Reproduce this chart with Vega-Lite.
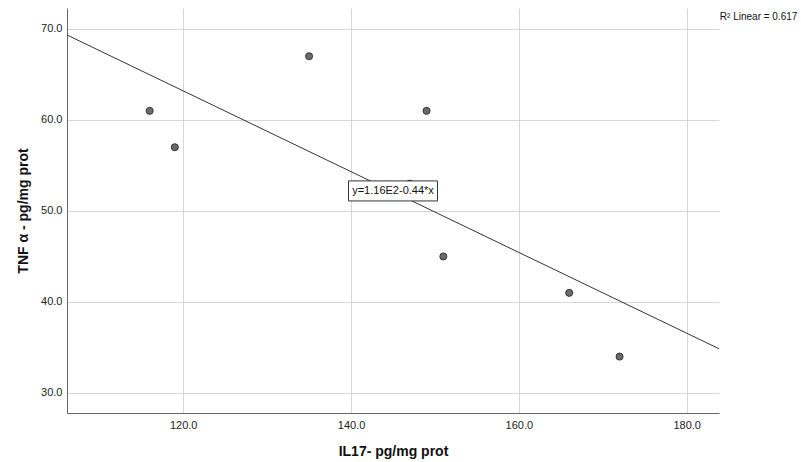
{
  "$schema": "https://vega.github.io/schema/vega-lite/v6.json",
  "width": 652,
  "height": 405,
  "autosize": "none",
  "padding": {"left": 67, "top": 8, "right": 82, "bottom": 49},
  "background": "white",
  "config": {
    "font": "Liberation Sans",
    "view": {"stroke": null},
    "axis": {
      "grid": true,
      "gridColor": "#d6d6d6",
      "gridWidth": 1,
      "domainColor": "#666666",
      "domainWidth": 1,
      "ticks": false,
      "labelFont": "Liberation Sans",
      "labelFontSize": 11,
      "labelColor": "#222222",
      "titleFont": "Liberation Sans",
      "titleFontSize": 14,
      "titleFontWeight": "bold",
      "titleColor": "#111111"
    }
  },
  "datasets": {
    "pts": [
      {"il17": 116, "tnf": 61},
      {"il17": 119, "tnf": 57},
      {"il17": 135, "tnf": 67},
      {"il17": 149, "tnf": 61},
      {"il17": 147, "tnf": 53},
      {"il17": 151, "tnf": 45},
      {"il17": 166, "tnf": 41},
      {"il17": 172, "tnf": 34}
    ],
    "eqbox": [{"x1": 139.7, "x2": 150.3, "y1": 53.3, "y2": 51.1, "xc": 145.0, "yc": 52.2, "label": "y=1.16E2-0.44*x"}],
    "r2": [{"x": 183.95, "y": 71.3, "label": "R² Linear = 0.617"}]
  },
  "layer": [
    {
      "data": {"name": "pts"},
      "mark": {"type": "point", "filled": true, "size": 50, "color": "#6b6b6b", "stroke": "#333333", "strokeWidth": 1, "opacity": 1},
      "encoding": {
        "x": {
          "field": "il17", "type": "quantitative",
          "scale": {"domain": [106.15, 183.85], "nice": false, "zero": false},
          "axis": {"values": [120, 140, 160, 180], "format": ".1f", "title": "IL17- pg/mg prot", "labelPadding": 6, "titlePadding": 14}
        },
        "y": {
          "field": "tnf", "type": "quantitative",
          "scale": {"domain": [27.8, 72.3], "nice": false, "zero": false},
          "axis": {"values": [30, 40, 50, 60, 70], "format": ".1f", "title": "TNF α - pg/mg prot", "labelPadding": 5, "titlePadding": 10}
        }
      }
    },
    {
      "data": {"name": "pts"},
      "transform": [{"regression": "tnf", "on": "il17", "extent": [106.15, 183.85]}],
      "mark": {"type": "line", "color": "#333333", "strokeWidth": 1},
      "encoding": {
        "x": {"field": "il17", "type": "quantitative"},
        "y": {"field": "tnf", "type": "quantitative"}
      }
    },
    {
      "data": {"name": "eqbox"},
      "mark": {"type": "rect", "fill": "white", "stroke": "#333333", "strokeWidth": 1},
      "encoding": {
        "x": {"field": "x1", "type": "quantitative"},
        "x2": {"field": "x2"},
        "y": {"field": "y1", "type": "quantitative"},
        "y2": {"field": "y2"}
      }
    },
    {
      "data": {"name": "eqbox"},
      "mark": {"type": "text", "fontSize": 11, "color": "#111111", "align": "center", "baseline": "middle"},
      "encoding": {
        "x": {"field": "xc", "type": "quantitative"},
        "y": {"field": "yc", "type": "quantitative"},
        "text": {"field": "label"}
      }
    },
    {
      "data": {"name": "r2"},
      "mark": {"type": "text", "fontSize": 10, "color": "#111111", "align": "left", "baseline": "middle"},
      "encoding": {
        "x": {"field": "x", "type": "quantitative"},
        "y": {"field": "y", "type": "quantitative"},
        "text": {"field": "label"}
      }
    }
  ]
}
